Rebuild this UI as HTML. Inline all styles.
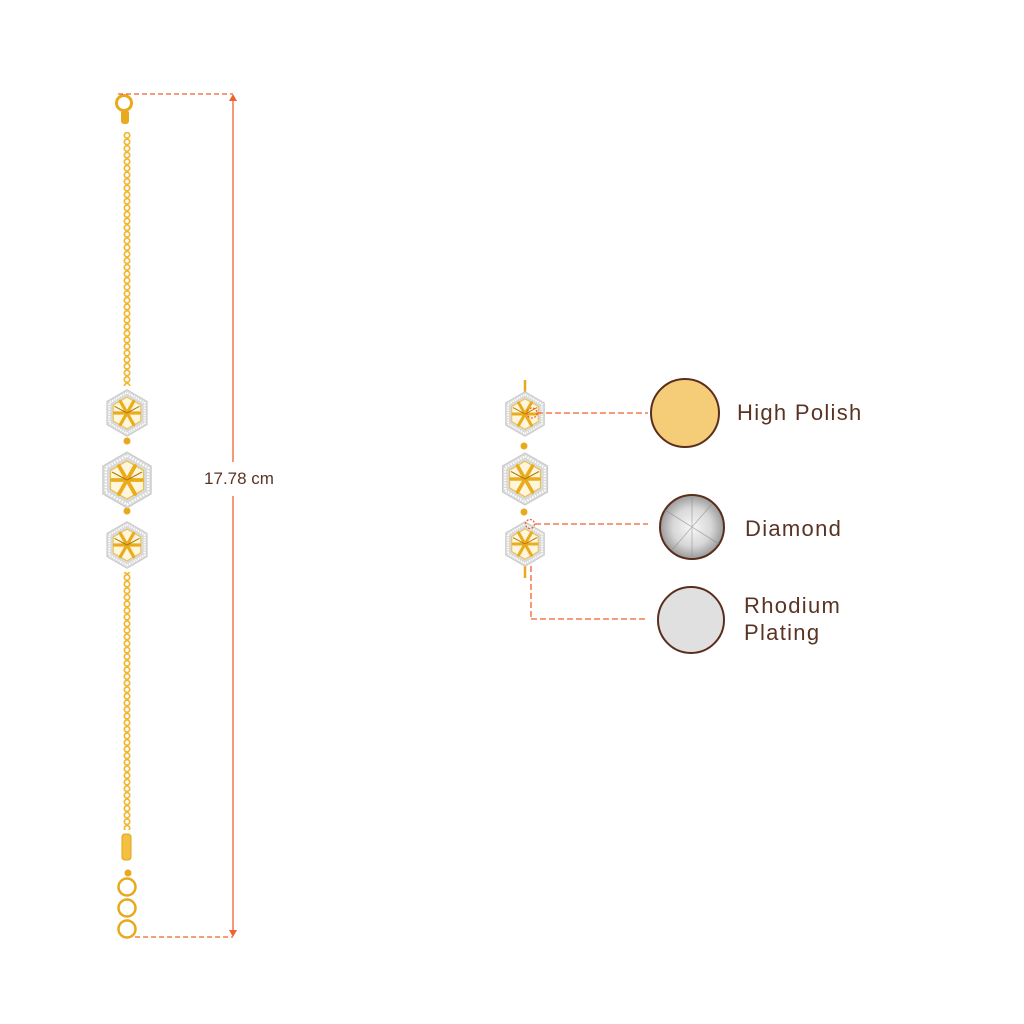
<!DOCTYPE html>
<html><head><meta charset="utf-8"><style>
html,body{margin:0;padding:0;background:#fff;}
svg{display:block;}
text{font-family:"Liberation Sans",sans-serif;fill:#5a3323;}
.lb{letter-spacing:1.3px;}
</style></head><body>
<svg width="1024" height="1024" viewBox="0 0 1024 1024" xmlns="http://www.w3.org/2000/svg">
<defs>
<pattern id="chain" x="123" y="0" width="8" height="6.6" patternUnits="userSpaceOnUse">
<circle cx="4" cy="3.3" r="2.7" fill="none" stroke="#f1b52e" stroke-width="1.7"/>
</pattern>
<symbol id="hex" viewBox="-30 -30 60 60">
<polygon points="0,-28 24.2,-14 24.2,14 0,28 -24.2,14 -24.2,-14" fill="#d9d9d9" stroke="#c8c8c8" stroke-width="1"/>
<polygon points="0,-24.5 21.2,-12.25 21.2,12.25 0,24.5 -21.2,12.25 -21.2,-12.25" fill="none" stroke="#fff" stroke-width="2.4" stroke-dasharray="1.6 1.4"/>
<polygon points="0,-19 16.5,-9.5 16.5,9.5 0,19 -16.5,9.5 -16.5,-9.5" fill="#fff6dc" stroke="#e8c14d" stroke-width="1.2"/>
<g stroke="#eaab1c" stroke-width="3.8" stroke-linecap="round">
<line x1="-8" y1="-14" x2="8" y2="14"/>
<line x1="8" y1="-14" x2="-8" y2="14"/>
<line x1="-15" y1="0" x2="15" y2="0"/>
</g>
<g stroke="#b07a0a" stroke-width="1.2">
<line x1="-15" y1="-8" x2="0" y2="0"/><line x1="15" y1="-8" x2="0" y2="0"/>
</g>
</symbol>
<radialGradient id="dia" cx="50%" cy="50%" r="50%">
<stop offset="0" stop-color="#f8f8f8"/><stop offset="0.6" stop-color="#d8d8d8"/><stop offset="1" stop-color="#9a9a9a"/>
</radialGradient>
</defs>

<rect x="123" y="132" width="8" height="254" fill="url(#chain)"/>
<rect x="123" y="572" width="8" height="258" fill="url(#chain)"/>
<circle cx="124" cy="103" r="7.5" fill="none" stroke="#e9a91c" stroke-width="3"/>
<rect x="121" y="110" width="8" height="14" rx="3" fill="#e9a91c"/>
<rect x="122" y="834" width="9" height="26" rx="3" fill="#f3c13f" stroke="#e0a21c"/>
<circle cx="128" cy="873" r="3.5" fill="#e9a91c"/>
<circle cx="127" cy="887" r="8.5" fill="none" stroke="#e9a91c" stroke-width="2.5"/>
<circle cx="127" cy="908" r="8.5" fill="none" stroke="#e9a91c" stroke-width="2.5"/>
<circle cx="127" cy="929" r="8.5" fill="none" stroke="#e9a91c" stroke-width="2.5"/>
<circle cx="127" cy="441" r="3.5" fill="#e9a91c"/>
<circle cx="127" cy="511" r="3.5" fill="#e9a91c"/>
<use href="#hex" x="102" y="388" width="50" height="50"/>
<use href="#hex" x="97" y="450" width="60" height="60"/>
<use href="#hex" x="102" y="520" width="50" height="50"/>

<g stroke="#f0622d" stroke-width="1.3" fill="none">
<line x1="118" y1="94" x2="233" y2="94" stroke-dasharray="5 3"/>
<line x1="135" y1="937" x2="233" y2="937" stroke-dasharray="5 3"/>
<line x1="233" y1="98" x2="233" y2="462"/>
<line x1="233" y1="496" x2="233" y2="933"/>
</g>
<polygon points="229,101 237,101 233,94" fill="#f0622d"/>
<polygon points="229,930 237,930 233,937" fill="#f0622d"/>
<text x="239" y="484" font-size="17" text-anchor="middle">17.78 cm</text>

<line x1="525" y1="380" x2="525" y2="392" stroke="#e9a91c" stroke-width="2.5"/>
<line x1="525" y1="566" x2="525" y2="578" stroke="#e9a91c" stroke-width="2.5"/>
<circle cx="524" cy="446" r="3.5" fill="#e9a91c"/>
<circle cx="524" cy="512" r="3.5" fill="#e9a91c"/>
<use href="#hex" x="501" y="390" width="48" height="48"/>
<use href="#hex" x="497" y="451" width="56" height="56"/>
<use href="#hex" x="501" y="520" width="48" height="48"/>
<g stroke="#f0622d" stroke-width="1.3" fill="none">
<circle cx="532" cy="413" r="5" stroke-dasharray="2 1.5"/>
<circle cx="530" cy="524" r="4.5" stroke-dasharray="2 1.5"/>
<line x1="537" y1="413" x2="648" y2="413" stroke-dasharray="6 3"/>
<line x1="535" y1="524" x2="648" y2="524" stroke-dasharray="6 3"/>
<line x1="531" y1="566" x2="531" y2="619" stroke-dasharray="6 3"/>
<line x1="531" y1="619" x2="648" y2="619" stroke-dasharray="6 3"/>
</g>

<circle cx="685" cy="413" r="34" fill="#f5cc77" stroke="#5a2e1c" stroke-width="2"/>
<circle cx="692" cy="527" r="32" fill="url(#dia)" stroke="#5a2e1c" stroke-width="2"/>
<g stroke="#888" stroke-width="0.8" opacity="0.6">
<line x1="665" y1="510" x2="719" y2="544"/><line x1="672" y1="550" x2="712" y2="504"/><line x1="692" y1="497" x2="692" y2="557"/>
</g>
<circle cx="691" cy="620" r="33" fill="#e0e0e0" stroke="#5a2e1c" stroke-width="2"/>

<text class="lb" x="737" y="420" font-size="22">High Polish</text>
<text class="lb" x="745" y="536" font-size="22">Diamond</text>
<text class="lb" x="744" y="613" font-size="22">Rhodium</text>
<text class="lb" x="744" y="640" font-size="22">Plating</text>
</svg>
</body></html>
